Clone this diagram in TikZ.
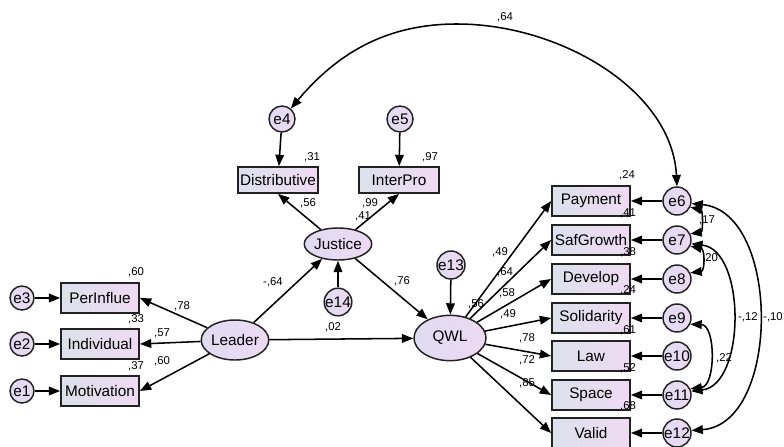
\documentclass[tikz,border=0pt]{standalone}
\usepackage{fontspec}
\setmainfont{Liberation Sans}
\usetikzlibrary{arrows.meta,shapes.geometric}
\definecolor{boxl}{HTML}{DCE1EC}
\definecolor{boxr}{HTML}{EFDAF3}
\definecolor{latl}{HTML}{E0DBF2}
\definecolor{latr}{HTML}{ECDAF2}
\definecolor{edge}{HTML}{222222}
\begin{document}
\begin{tikzpicture}[x=0.75pt,y=-0.75pt,
  obs/.style={draw=edge,line width=1.3pt,rectangle,inner sep=0pt,
    minimum width=58.5pt,minimum height=23pt,left color=boxl,right color=boxr,
    font=\fontsize{11.5}{13}\selectfont},
  obsS/.style={obs,minimum width=60.5pt,minimum height=19.5pt},
  lat/.style={draw=edge,line width=1.1pt,ellipse,inner sep=0pt,left color=latl,right color=latr,
    font=\fontsize{11.5}{13}\selectfont},
  err/.style={draw=edge,line width=1.1pt,circle,inner sep=0pt,minimum size=21pt,
    left color=latl,right color=latr,font=\fontsize{11.5}{13}\selectfont},
  errS/.style={err,minimum size=18pt},
  arr/.style={-{Triangle[length=8.5pt,width=6.5pt]},line width=1.15pt,draw=black},
  cov/.style={{Triangle[length=8.5pt,width=6.5pt]}-{Triangle[length=8.5pt,width=6.5pt]},line width=1.15pt,draw=black},
  lbl/.style={font=\fontsize{8.5}{10}\selectfont,inner sep=0pt}
]
\useasboundingbox (0,0) rectangle (784,446);
\fill[white] (0,0) rectangle (784,446);

% left side
\node[obs] (PerInflue) at (100,298) {PerInflue};
\node[obs] (Individual) at (100,344) {Individual};
\node[obs] (Motivation) at (100,391) {Motivation};
\node[errS] (e3) at (22,298) {e3};
\node[errS] (e2) at (22,344) {e2};
\node[errS] (e1) at (22,391) {e1};
\node[lat,minimum width=48pt,minimum height=30pt] (Leader) at (235,340) {Leader};

% justice
\node[lat,minimum width=47pt,minimum height=24pt] (Justice) at (338,244) {Justice};
\node[obsS] (Distributive) at (278,180) {Distributive};
\node[obsS] (InterPro) at (399,180) {InterPro};
\node[err,minimum size=19.5pt] (e4) at (282,119) {e4};
\node[err,minimum size=19.5pt] (e5) at (400,119) {e5};
\node[err,minimum size=19.5pt] (e14) at (338,302) {e14};

% QWL
\node[lat,minimum width=54pt,minimum height=34pt] (QWL) at (450,338) {QWL};
\node[err] (e13) at (451,265) {e13};

% right boxes
\foreach \n/\y/\e in {Payment/201/e6,SafGrowth/240/e7,Develop/279/e8,Solidarity/318/e9,Law/356/e10,Space/395/e11,Valid/433/e12}{
  \node[obs] (\n) at (591,\y) {\n};
  \node[err] (\e) at (677,\y) {\e};
  \draw[arr] (\e) -- (\n.east);
  \draw[arr] (QWL) -- (\n.west);
}

% arrows
\draw[arr] (e3) -- (PerInflue);
\draw[arr] (e2) -- (Individual);
\draw[arr] (e1) -- (Motivation);
\draw[arr] (Leader) -- (PerInflue.east);
\draw[arr] (Leader) -- (Individual.east);
\draw[arr] (Leader) -- (Motivation.east);
\draw[arr] (Leader) -- (Justice);
\draw[arr] (Leader) -- (QWL);
\draw[arr] (Justice) -- (QWL);
\draw[arr] (Justice) -- (Distributive.south);
\draw[arr] (Justice) -- (InterPro.south);
\draw[arr] (e4) -- (Distributive);
\draw[arr] (e5) -- (InterPro);
\draw[arr] (e14) -- (Justice);
\draw[arr] (e13) -- (QWL);

% covariances
\coordinate (arctop) at (457,24);
\draw[cov] (e4.50) .. controls (340,50) and (390,24) .. (arctop) .. controls (560,24) and (672,90) .. (e6.north);
\draw[cov] (e6.-25) .. controls (703,210) and (703,232) .. (e7.25);
\draw[cov] (e7.-25) .. controls (705,249) and (705,271) .. (e8.25);
\draw[cov] (e9.-25) .. controls (716,325) and (716,386) .. (e11.25);
\draw[cov] (e7.-15) .. controls (746,250) and (746,385) .. (e11.15);
\draw[cov] (e6.-10) .. controls (781,212) and (781,424) .. (e12.10);

% labels
\node[lbl] at (136,272) {,60};
\node[lbl] at (182,306) {,78};
\node[lbl] at (136,319) {,33};
\node[lbl] at (162,333) {,57};
\node[lbl] at (136,366) {,37};
\node[lbl] at (162,361) {,60};
\node[lbl] at (273,282) {-,64};
\node[lbl] at (333,327) {,02};
\node[lbl] at (312,157) {,31};
\node[lbl] at (430,157) {,97};
\node[lbl] at (308,203) {,56};
\node[lbl] at (370,203) {,99};
\node[lbl] at (363,216) {,41};
\node[lbl] at (402,281) {,76};
\node[lbl] at (476,304) {,56};
\node[lbl] at (505,17) {,64};
\node[lbl] at (627,175) {,24};
\node[lbl] at (628,213) {,41};
\node[lbl] at (628,252) {,38};
\node[lbl] at (628,290) {,24};
\node[lbl] at (628,330) {,61};
\node[lbl] at (628,368) {,52};
\node[lbl] at (628,406) {,68};
\node[lbl] at (500,252) {,49};
\node[lbl] at (505,272) {,64};
\node[lbl] at (507,293) {,58};
\node[lbl] at (508,314) {,49};
\node[lbl] at (527,338) {,78};
\node[lbl] at (527,360) {,72};
\node[lbl] at (527,383) {,85};
\node[lbl] at (707,220) {,17};
\node[lbl] at (710,258) {,20};
\node[lbl] at (724,358) {,22};
\node[lbl] at (748,317) {-,12};
\node[lbl] at (773,317) {-,10};
\end{tikzpicture}
\end{document}
